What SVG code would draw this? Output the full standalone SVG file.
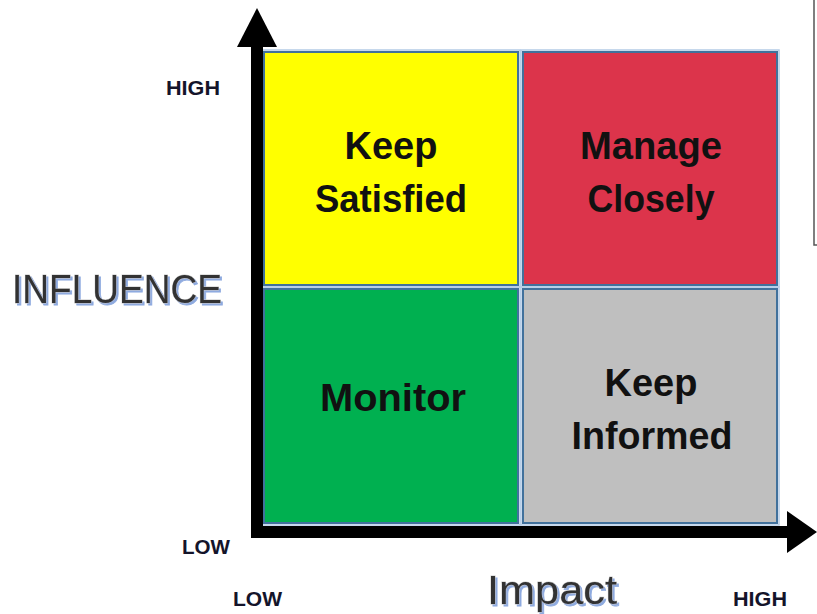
<svg xmlns="http://www.w3.org/2000/svg" width="817" height="614" viewBox="0 0 817 614">
  <defs>
    <filter id="blueShadow" x="-10%" y="-20%" width="130%" height="150%">
      <feOffset in="SourceAlpha" dx="2" dy="2" result="off"/>
      <feFlood flood-color="#8eaadf" result="col"/>
      <feComposite in="col" in2="off" operator="in" result="sh"/>
      <feMerge>
        <feMergeNode in="sh"/>
        <feMergeNode in="SourceGraphic"/>
      </feMerge>
    </filter>
  </defs>
  <style>
    .quad { stroke: #41719c; stroke-width: 2; }
    .glow { fill: none; stroke: #b4cbe6; stroke-width: 1.5; }
    .big { font-family: "Liberation Sans", Arial, sans-serif; font-weight: bold; font-size: 38px; fill: #111; text-anchor: middle; }
    .tick { font-family: "Liberation Sans", Arial, sans-serif; font-weight: bold; font-size: 20px; fill: #14142a; }
    .axis { fill: #000; }
    .title { font-family: "Liberation Sans", Arial, sans-serif; font-size: 41px; fill: #303030; stroke: #c8c8c8; stroke-width: 0.8; paint-order: stroke; filter: url(#blueShadow); }
  </style>
  <rect x="0" y="0" width="817" height="614" fill="#ffffff"/>

  <g id="side-frame">
    <path d="M814 0 V245 H817" fill="none" stroke="#555555" stroke-width="1.5"/>
  </g>

  <g id="keep-satisfied">
    <rect class="glow" x="262" y="50" width="258" height="237"/>
    <rect class="quad" x="264" y="52" width="254" height="233" fill="#ffff00"/>
    <text class="big" x="391" y="159">Keep</text>
    <text class="big" x="391" y="212" textLength="152" lengthAdjust="spacingAndGlyphs">Satisfied</text>
  </g>

  <g id="manage-closely">
    <rect class="glow" x="521" y="50" width="258" height="237"/>
    <rect class="quad" x="523" y="52" width="254" height="233" fill="#dc344b"/>
    <text class="big" x="651" y="159" textLength="142" lengthAdjust="spacingAndGlyphs">Manage</text>
    <text class="big" x="651" y="212" textLength="127" lengthAdjust="spacingAndGlyphs">Closely</text>
  </g>

  <g id="monitor">
    <rect class="glow" x="262" y="287" width="258" height="238"/>
    <rect class="quad" x="264" y="289" width="254" height="234" fill="#00b050"/>
    <text class="big" x="393" y="411" textLength="146" lengthAdjust="spacingAndGlyphs">Monitor</text>
  </g>

  <g id="keep-informed">
    <rect class="glow" x="521" y="287" width="258" height="238"/>
    <rect class="quad" x="523" y="289" width="254" height="234" fill="#bfbfbf"/>
    <text class="big" x="651" y="396">Keep</text>
    <text class="big" x="652" y="449" textLength="161" lengthAdjust="spacingAndGlyphs">Informed</text>
  </g>

  <g id="connectors">
    <rect class="axis" x="251" y="44" width="12" height="494"/>
    <polygon class="axis" points="257,8 277,47 237,47"/>
    <rect class="axis" x="251" y="526" width="538" height="12"/>
    <polygon class="axis" points="787,511 817,532 787,553"/>
  </g>

  <g id="labels">
    <text class="tick" x="166" y="95" textLength="54" lengthAdjust="spacingAndGlyphs">HIGH</text>
    <text class="tick" x="182" y="554" textLength="48" lengthAdjust="spacingAndGlyphs">LOW</text>
    <text class="tick" x="233" y="606" textLength="49" lengthAdjust="spacingAndGlyphs">LOW</text>
    <text class="tick" x="733" y="606" textLength="54" lengthAdjust="spacingAndGlyphs">HIGH</text>
  </g>

  <g id="influence-label">
    <text class="title" x="12" y="303" textLength="210" lengthAdjust="spacingAndGlyphs">INFLUENCE</text>
  </g>

  <g id="impact-label">
    <text class="title" x="487" y="604" textLength="130" lengthAdjust="spacingAndGlyphs">Impact</text>
  </g>
</svg>
